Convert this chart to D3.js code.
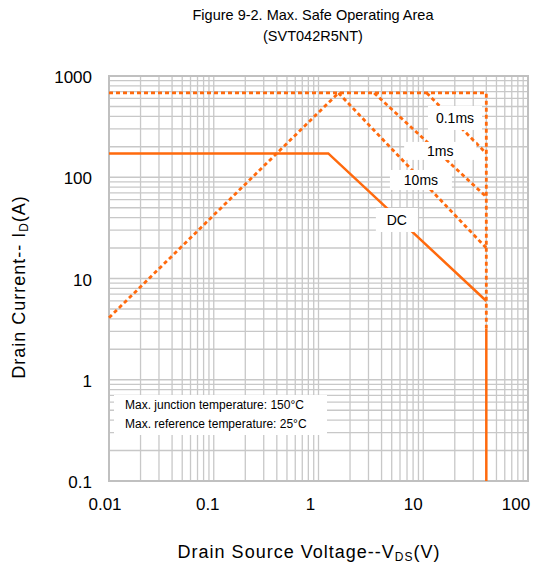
<!DOCTYPE html>
<html>
<head>
<meta charset="utf-8">
<script src="https://cdn.jsdelivr.net/npm/d3@7"></script>
<style>
  body { margin: 0; background: #fff; }
  text { font-family: "Liberation Sans", Arial, sans-serif; fill: #000; }
</style>
</head>
<body>
<div id="chart"></div>
<script>
// axis ticks
var xTicks = [0.01, 0.1, 1, 10, 100];
var yTicks = [0.1, 1, 10, 100, 1000];

// SOA boundaries, [Vds, Id]
var dcLine = [[0.01, 172], [1.24, 172], [40, 6.0]];
var dcVert = [[40, 3.2], [40, 0.1]];
var limitLine = [[0.01, 680], [40, 680], [40, 3.2]];
var rdsLine = [[0.01, 4.1], [1.55, 680]];
var ms10Line = [[1.55, 680], [40, 20]];
var ms1Line = [[3.4, 680], [40, 64]];
var ms01Line = [[10.8, 680], [40, 172]];

var curveLabels = ["0.1ms", "1ms", "10ms", "DC"];
var noteLines = ["Max. junction temperature: 150\u00b0C", "Max. reference temperature: 25\u00b0C"];

var width = 543, height = 567;
var plotL = 109, plotR = 528, plotT = 76, plotB = 481;
var orange = "#ff6a0d";

var svg = d3.select("#chart").append("svg")
    .attr("width", width)
    .attr("height", height);

var x = d3.scaleLog().domain([0.01, 100]).range([plotL, plotR]);
var y = d3.scaleLog().domain([0.1, 1000]).range([plotB, plotT]);

// minor + major grid
var xGrid = [], yGrid = [];
xTicks.slice(0, -1).forEach(function (d) {
    for (var k = 1; k <= 9; k++) xGrid.push(d * k);
});
yTicks.slice(0, -1).forEach(function (d) {
    for (var k = 1; k <= 9; k++) yGrid.push(d * k);
});

var grid = svg.append("g").attr("stroke", "#c8c8c8").attr("stroke-width", 1.3);
grid.selectAll(".gx").data(xGrid).enter().append("line")
    .attr("x1", function (d) { return x(d); })
    .attr("x2", function (d) { return x(d); })
    .attr("y1", plotT).attr("y2", plotB);
grid.selectAll(".gy").data(yGrid).enter().append("line")
    .attr("y1", function (d) { return y(d); })
    .attr("y2", function (d) { return y(d); })
    .attr("x1", plotL).attr("x2", plotR);
svg.append("rect")
    .attr("x", plotL).attr("y", plotT)
    .attr("width", plotR - plotL).attr("height", plotB - plotT)
    .attr("fill", "none").attr("stroke", "#c0c0c0").attr("stroke-width", 2);

// tick labels
svg.selectAll(".xt").data(xTicks).enter().append("text")
    .attr("x", function (d, i) { return x(d) - 4 - i * 2; })
    .attr("y", plotB + 29)
    .attr("text-anchor", "middle")
    .attr("font-size", 17)
    .text(function (d) { return d; });
svg.selectAll(".yt").data(yTicks).enter().append("text")
    .attr("x", plotL - 17)
    .attr("y", function (d) { return y(d) + 7; })
    .attr("text-anchor", "end")
    .attr("font-size", 17)
    .text(function (d) { return d; });

var line = d3.line()
    .x(function (d) { return x(d[0]); })
    .y(function (d) { return y(d[1]); });

function draw(pts, dashed) {
    svg.append("path")
        .attr("d", line(pts))
        .attr("fill", "none")
        .attr("stroke", orange)
        .attr("stroke-width", dashed ? 2.8 : 2.5)
        .attr("stroke-dasharray", dashed ? "4,3" : null);
}
draw(limitLine, true);
draw(rdsLine, true);
draw(ms10Line, true);
draw(ms1Line, true);
draw(ms01Line, true);
draw(dcLine, false);
draw(dcVert, false);

// curve labels with white boxes: [Vds, Id] centre, box w, h
var labelPos = [[20.1, 385, 54, 24], [14.5, 182, 72, 18], [9.5, 94, 62, 20], [5.6, 37.8, 42, 24]];
var lab = svg.selectAll(".lab").data(curveLabels).enter().append("g")
    .attr("transform", function (d, i) {
        return "translate(" + x(labelPos[i][0]) + "," + y(labelPos[i][1]) + ")";
    });
lab.append("rect")
    .attr("x", function (d, i) { return -labelPos[i][2] / 2; })
    .attr("y", function (d, i) { return -labelPos[i][3] / 2; })
    .attr("width", function (d, i) { return labelPos[i][2]; })
    .attr("height", function (d, i) { return labelPos[i][3]; })
    .attr("fill", "#fff");
lab.append("text")
    .attr("text-anchor", "middle")
    .attr("dy", "0.35em")
    .attr("font-size", 14)
    .text(function (d) { return d; });

// note box
svg.append("rect")
    .attr("x", 114).attr("y", 395)
    .attr("width", 213).attr("height", 40)
    .attr("fill", "#fff");
svg.selectAll(".note").data(noteLines).enter().append("text")
    .attr("x", 125)
    .attr("y", function (d, i) { return 408.5 + i * 19; })
    .attr("font-size", 12)
    .text(function (d) { return d; });

// titles
svg.append("text").attr("x", 313).attr("y", 20).attr("text-anchor", "middle")
    .attr("font-size", 14.5).text("Figure 9-2. Max. Safe Operating Area");
svg.append("text").attr("x", 313).attr("y", 41).attr("text-anchor", "middle")
    .attr("font-size", 14.5).text("(SVT042R5NT)");

var xl = svg.append("text").attr("x", 309).attr("y", 558).attr("text-anchor", "middle")
    .attr("font-size", 18).attr("letter-spacing", 1);
xl.append("tspan").text("Drain Source Voltage--V");
xl.append("tspan").attr("font-size", 12).attr("dy", 3).text("DS");
xl.append("tspan").attr("dy", -3).text("(V)");

var yl = svg.append("text").attr("transform", "translate(25,287) rotate(-90)")
    .attr("text-anchor", "middle").attr("font-size", 18).attr("letter-spacing", 1);
yl.append("tspan").text("Drain Current-- I");
yl.append("tspan").attr("font-size", 12).attr("dy", 3).text("D");
yl.append("tspan").attr("dy", -3).text("(A)");
</script>
</body>
</html>
